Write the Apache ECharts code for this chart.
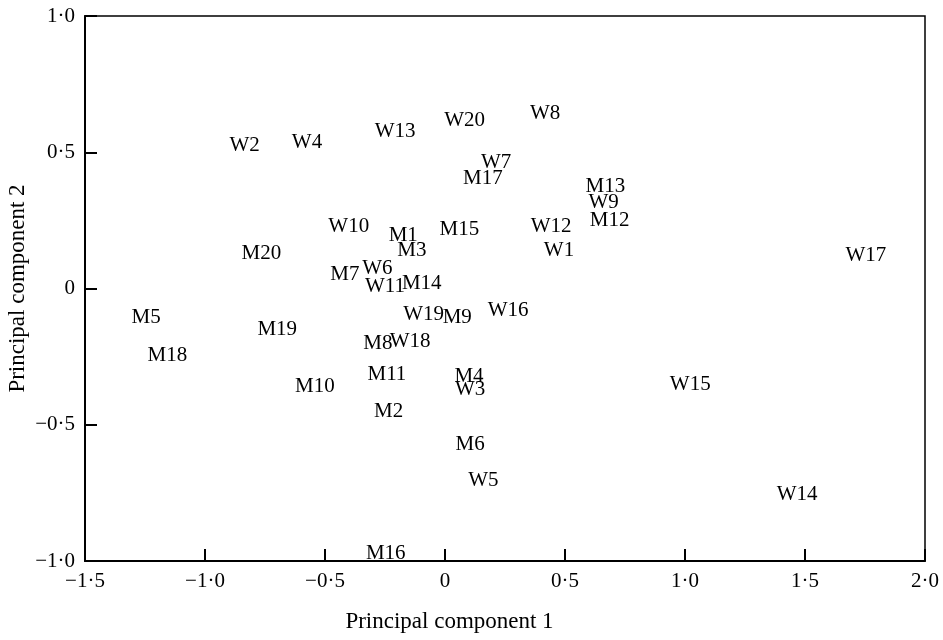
<!DOCTYPE html>
<html>
<head>
<meta charset="utf-8">
<script src="https://cdn.jsdelivr.net/npm/echarts@6/dist/echarts.min.js"></script>
<style>
  html, body { margin: 0; padding: 0; background: #fff; }
  #chart { width: 943px; height: 640px; }
</style>
</head>
<body>
<div id="chart"></div>
<script>
// subject labels and their scores on the first two principal components
var labels = ['W2', 'W4', 'W13', 'W20', 'W8', 'W7', 'M17', 'M13', 'W9', 'M12',
    'W10', 'M1', 'M3', 'M15', 'W12', 'W1', 'M20', 'M7', 'W6', 'W11', 'M14', 'W17',
    'M5', 'M19', 'W19', 'M9', 'W16', 'M18', 'M8', 'W18', 'M11', 'M4', 'W3', 'M10',
    'W15', 'M2', 'M6', 'W5', 'W14', 'M16'];
var pc1 = [-0.835, -0.575, -0.208, 0.082, 0.417, 0.213, 0.158, 0.668, 0.661, 0.686,
    -0.401, -0.174, -0.138, 0.060, 0.442, 0.475, -0.765, -0.417, -0.282, -0.250, -0.097, 1.754,
    -1.245, -0.699, -0.089, 0.051, 0.263, -1.157, -0.280, -0.145, -0.242, 0.100, 0.105, -0.542,
    1.022, -0.235, 0.105, 0.160, 1.467, -0.247];
var pc2 = [0.524, 0.535, 0.578, 0.618, 0.643, 0.462, 0.403, 0.374, 0.316, 0.249,
    0.229, 0.194, 0.141, 0.215, 0.229, 0.139, 0.129, 0.053, 0.074, 0.009, 0.017, 0.120,
    -0.106, -0.149, -0.097, -0.108, -0.080, -0.247, -0.200, -0.195, -0.317, -0.324, -0.370, -0.361,
    -0.354, -0.452, -0.572, -0.703, -0.757, -0.974];

var font = 'Liberation Serif';

// journal style ticks: middle dot decimal and a real minus sign
var tickFmt = function (v) {
    if (Math.abs(v) < 1e-9) return '0';
    return v.toFixed(1).replace('.', '\u00b7').replace('-', '\u2212');
};

var points = labels.map(function (name, i) {
    return { name: name, value: [pc1[i], pc2[i]] };
});

var chart = echarts.init(document.getElementById('chart'));
chart.setOption({
    animation: false,
    backgroundColor: '#fff',
    grid: {
        left: 85, right: 18, top: 16, bottom: 79,
        outerBoundsMode: 'none',
        containLabel: false,
        show: true,
        borderColor: '#000',
        borderWidth: 1.5
    },
    xAxis: {
        type: 'value',
        min: -1.5, max: 2.0, interval: 0.5,
        name: 'Principal component 1',
        nameLocation: 'middle',
        nameGap: 49,
        // title sits left of the axis middle in the original
        nameTextStyle: { fontFamily: font, fontSize: 23, color: '#000', padding: [0, 111, 0, 0] },
        axisLine: { onZero: false, lineStyle: { color: '#000', width: 2 } },
        axisTick: { inside: true, length: 12, lineStyle: { color: '#000', width: 2 } },
        axisLabel: { fontFamily: font, fontSize: 21, color: '#000', margin: 10, formatter: tickFmt },
        splitLine: { show: false }
    },
    yAxis: {
        type: 'value',
        min: -1.0, max: 1.0, interval: 0.5,
        name: 'Principal component 2',
        nameLocation: 'middle',
        nameGap: 56,
        nameMoveOverlap: false,
        nameTextStyle: { fontFamily: font, fontSize: 23, color: '#000' },
        axisLine: { onZero: false, lineStyle: { color: '#000', width: 2 } },
        axisTick: { inside: true, length: 12, lineStyle: { color: '#000', width: 2 } },
        axisLabel: { fontFamily: font, fontSize: 21, color: '#000', margin: 10, formatter: tickFmt },
        splitLine: { show: false }
    },
    series: [{
        type: 'scatter',
        data: points,
        symbolSize: 1,
        itemStyle: { color: 'rgba(0,0,0,0)' },
        label: {
            show: true,
            position: 'inside',
            formatter: '{b}',
            fontFamily: font,
            fontSize: 21,
            color: '#000',
            opacity: 1,
            textBorderWidth: 0
        },
        emphasis: { disabled: true }
    }]
});
</script>
</body>
</html>
